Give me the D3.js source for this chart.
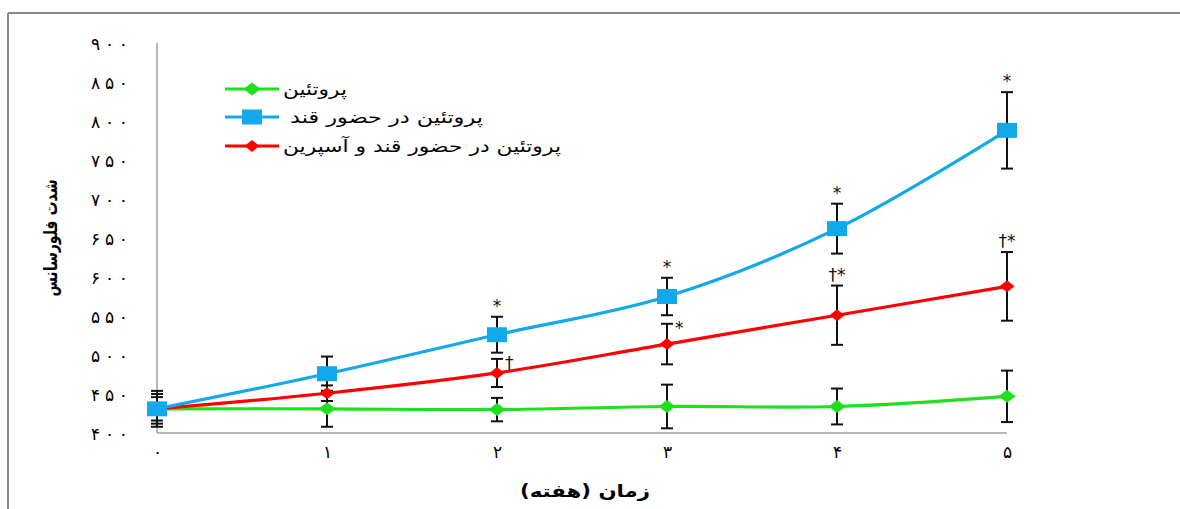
<!DOCTYPE html>
<meta charset="utf-8">
<script src="https://d3js.org/d3.v7.min.js"></script>
<div id="chart"></div>
<style>
	body {
		margin: 0;
		padding: 0;
		background: #fff;
		overflow: hidden;
	}
	text {
		font-family: "DejaVu Sans", sans-serif;
	}
</style>
<script>
	const weeks = [0, 1, 2, 3, 4, 5];
	const weekLabels = ['۰', '۱', '۲', '۳', '۴', '۵'];
	const yTicks = [400, 450, 500, 550, 600, 650, 700, 750, 800, 850, 900];

	const protein = [431, 431, 430, 434, 434, 447];
	const proteinErr = [15, 23, 15, 28, 23, 33];
	const sugar = [431, 476, 526, 575, 662, 788];
	const sugarErr = [19, 22, 23, 24, 32, 49];
	const aspirin = [431, 451, 477, 514, 551, 588];
	const aspirinErr = [23, 10, 18, 26, 38, 44];

	const seriesNames = ['پروتئین', 'پروتئین در حضور قند', 'پروتئین در حضور قند و آسپرین'];

	// significance marks: [series index, week, text, placement]
	const marks = [
		[1, 2, '*', 'top'], [1, 3, '*', 'top'], [1, 4, '*', 'top'], [1, 5, '*', 'top'],
		[2, 2, '†', 'side'], [2, 3, '*', 'side'],
		[2, 4, '†*', 'top'], [2, 5, '†*', 'top']
	];

	const toFa = n => String(n).replace(/\d/g, d => '۰۱۲۳۴۵۶۷۸۹'[d]);

	const W = 1180, H = 509;
	const svg = d3.select('#chart').append('svg').attr('width', W).attr('height', H);

	// frame
	svg.append('line').attr('x1', 8).attr('x2', W).attr('y1', 13).attr('y2', 13)
		.attr('stroke', '#8a8a8a').attr('stroke-width', 2);
	svg.append('line').attr('x1', 8).attr('x2', 8).attr('y1', 13).attr('y2', H)
		.attr('stroke', '#8a8a8a').attr('stroke-width', 2);

	const x = d3.scaleLinear().domain([0, 5]).range([157, 1007]);
	const y = d3.scaleLinear().domain([400, 900]).range([433, 43]);

	// axes lines
	svg.append('line').attr('x1', x(0)).attr('x2', x(0)).attr('y1', y(900)).attr('y2', y(400))
		.attr('stroke', '#a0a0a0').attr('stroke-width', 1.5);
	svg.append('line').attr('x1', x(0)).attr('x2', x(5)).attr('y1', y(400)).attr('y2', y(400))
		.attr('stroke', '#a0a0a0').attr('stroke-width', 1.5);

	const yAxis = d3.axisLeft(y).tickValues(yTicks).tickSize(0).tickPadding(29).tickFormat(toFa);
	svg.append('g').attr('transform', `translate(${x(0)},0)`).call(yAxis)
		.call(g => g.select('.domain').remove())
		.selectAll('text').attr('font-size', 17).attr('font-family', '"DejaVu Sans", sans-serif').attr('fill', '#000')
		.attr('textLength', 37).attr('lengthAdjust', 'spacing').attr('dy', '0.36em');

	const xAxis = d3.axisBottom(x).tickValues(weeks).tickSize(0).tickPadding(13).tickFormat(d => weekLabels[d]);
	svg.append('g').attr('transform', `translate(0,${y(400)})`).call(xAxis)
		.call(g => g.select('.domain').remove())
		.selectAll('text').attr('font-size', 17).attr('font-family', '"DejaVu Sans", sans-serif').attr('fill', '#000');

	// titles
	svg.append('text').attr('transform', 'translate(57,238) rotate(-90)')
		.attr('text-anchor', 'middle').attr('direction', 'rtl').attr('font-size', 18).attr('font-weight', 'bold')
		.attr('textLength', 117).attr('lengthAdjust', 'spacingAndGlyphs')
		.text('شدت فلورسانس');
	svg.append('text').attr('x', 585).attr('y', 497)
		.attr('text-anchor', 'middle').attr('direction', 'rtl').attr('font-size', 17).attr('font-weight', 'bold')
		.attr('textLength', 130).attr('lengthAdjust', 'spacingAndGlyphs')
		.text('زمان (هفته)');

	const series = [
		{ values: protein, err: proteinErr, color: '#1ee01e', marker: 'diamond', mw: 17, mh: 13 },
		{ values: sugar, err: sugarErr, color: '#12a8ea', marker: 'square', mw: 20, mh: 15 },
		{ values: aspirin, err: aspirinErr, color: '#ff0000', marker: 'diamond', mw: 15, mh: 12 }
	];

	const line = d3.line().x((d, i) => x(weeks[i])).y(d => y(d)).curve(d3.curveCatmullRom.alpha(0.5));

	function drawMarker(g, s, cx, cy) {
		if (s.marker === 'square') {
			g.append('rect').attr('x', cx - s.mw / 2).attr('y', cy - s.mh / 2)
				.attr('width', s.mw).attr('height', s.mh).attr('fill', s.color);
		} else {
			g.append('path')
				.attr('d', `M${cx - s.mw / 2},${cy}L${cx},${cy - s.mh / 2}L${cx + s.mw / 2},${cy}L${cx},${cy + s.mh / 2}Z`)
				.attr('fill', s.color);
		}
	}

	// error bars
	const eb = svg.append('g').attr('stroke', '#111').attr('stroke-width', 2);
	series.forEach(s => {
		s.values.forEach((v, i) => {
			const cx = x(weeks[i]);
			const y1 = y(v + s.err[i]), y0 = y(v - s.err[i]);
			eb.append('line').attr('x1', cx).attr('x2', cx).attr('y1', y1).attr('y2', y0);
			eb.append('line').attr('x1', cx - 6).attr('x2', cx + 6).attr('y1', y1).attr('y2', y1);
			eb.append('line').attr('x1', cx - 6).attr('x2', cx + 6).attr('y1', y0).attr('y2', y0);
		});
	});

	// lines and markers, drawn green, red, then blue on top
	[0, 2, 1].forEach(k => {
		const s = series[k];
		const g = svg.append('g');
		g.append('path').datum(s.values).attr('d', line)
			.attr('fill', 'none').attr('stroke', s.color).attr('stroke-width', 3.2);
		s.values.forEach((v, i) => drawMarker(g, s, x(weeks[i]), y(v)));
	});

	// significance marks
	marks.forEach(([k, wk, txt, pos]) => {
		const s = series[k];
		const v = s.values[wk] + s.err[wk];
		const t = svg.append('text').attr('font-size', 17).attr('fill', '#111').attr('direction', 'ltr').text(txt);
		if (pos === 'top') {
			t.attr('x', x(wk)).attr('y', y(v) - 5).attr('text-anchor', 'middle');
		} else {
			t.attr('x', x(wk) + 8).attr('y', y(v) + 10).attr('text-anchor', 'start');
		}
	});

	// legend
	const legendY = [89, 117, 146];
	const legendLen = [64, 193, 278];
	series.forEach((s, k) => {
		const g = svg.append('g');
		g.append('line').attr('x1', 225).attr('x2', 279).attr('y1', legendY[k]).attr('y2', legendY[k])
			.attr('stroke', s.color).attr('stroke-width', 3.2);
		drawMarker(g, s, 252, legendY[k]);
		g.append('text').attr('x', k === 1 ? 290 : 283).attr('y', legendY[k] + 6)
			.attr('direction', 'rtl').attr('text-anchor', 'end').attr('font-size', 17).attr('fill', '#000')
			.attr('textLength', legendLen[k]).attr('lengthAdjust', 'spacingAndGlyphs')
			.text(seriesNames[k]);
	});
</script>
